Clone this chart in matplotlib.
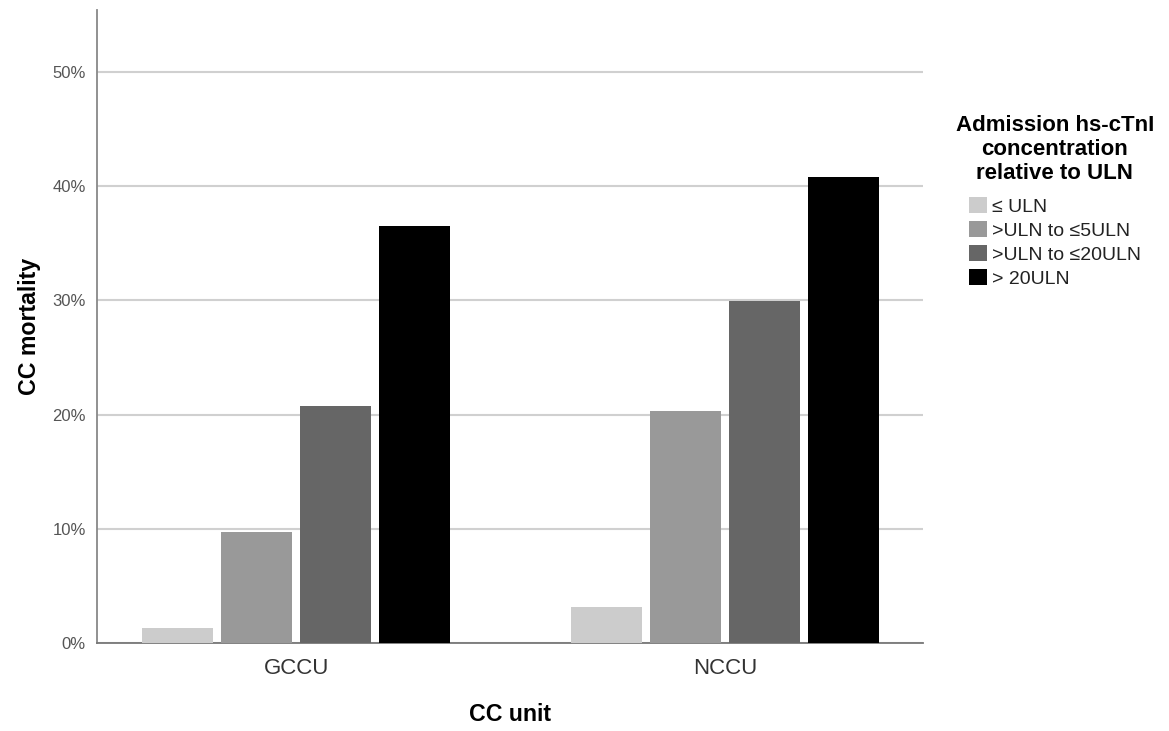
import matplotlib.pyplot as plt
import numpy as np

plt.rcParams['font.family'] = ['Liberation Sans', 'DejaVu Sans']

units = ["GCCU", "NCCU"]
groups = ["\u2264 ULN", ">ULN to \u22645ULN", ">ULN to \u226420ULN", "> 20ULN"]
mortality = [
    [1.3, 3.15],    # <= ULN
    [9.7, 20.3],    # >ULN to <=5ULN
    [20.75, 29.95], # >ULN to <=20ULN
    [36.5, 40.8],   # > 20ULN
]
colors = ["#cccccc", "#999999", "#666666", "#000000"]

fig = plt.figure(figsize=(11.69, 7.31), dpi=100)
ax = fig.add_axes([0.083, 0.1204, 0.7066, 0.8656])

x = np.arange(len(units))
width = 0.1655
step = 0.184
for i, (name, vals) in enumerate(zip(groups, mortality)):
    ax.bar(x + (i - 1.5) * step, vals, width, color=colors[i], label=name, zorder=3)

ax.set_xlim(-0.464, 1.4615)
ax.set_ylim(0, 55.4)
ax.set_yticks([0, 10, 20, 30, 40, 50])
ax.set_yticklabels(["0%", "10%", "20%", "30%", "40%", "50%"])
ax.set_xticks(x)
ax.set_xticklabels(units, fontsize=16, color="#333333")
ax.tick_params(axis="y", labelsize=12, colors="#555555", length=0, pad=8)
ax.tick_params(axis="x", length=0, pad=11)

ax.yaxis.grid(True, color="#d0d0d0", linewidth=1.5, zorder=0)
for s in ["top", "right"]:
    ax.spines[s].set_visible(False)
ax.spines["left"].set_color("#888888")
ax.spines["bottom"].set_color("#777777")
ax.spines["left"].set_linewidth(1.3)
ax.spines["bottom"].set_linewidth(1.3)

ax.set_ylabel("CC mortality", fontsize=16.7, fontweight="bold", labelpad=8)
ax.set_xlabel("CC unit", fontsize=16.7, fontweight="bold", labelpad=17)

leg = ax.legend(title="Admission hs-cTnI\nconcentration\nrelative to ULN",
                loc="upper left", bbox_to_anchor=(1.03, 0.847), frameon=False,
                fontsize=14, title_fontproperties={"weight": "bold", "size": 16},
                handlelength=0.93, handleheight=0.93, handletextpad=0.26,
                labelspacing=0.26, borderaxespad=0)
leg._legend_box.align = "center"
leg._legend_box.sep = 9
leg.get_title().set_multialignment("center")
for t in leg.get_texts():
    t.set_color("#222222")

fig.savefig("out.png", dpi=100)
